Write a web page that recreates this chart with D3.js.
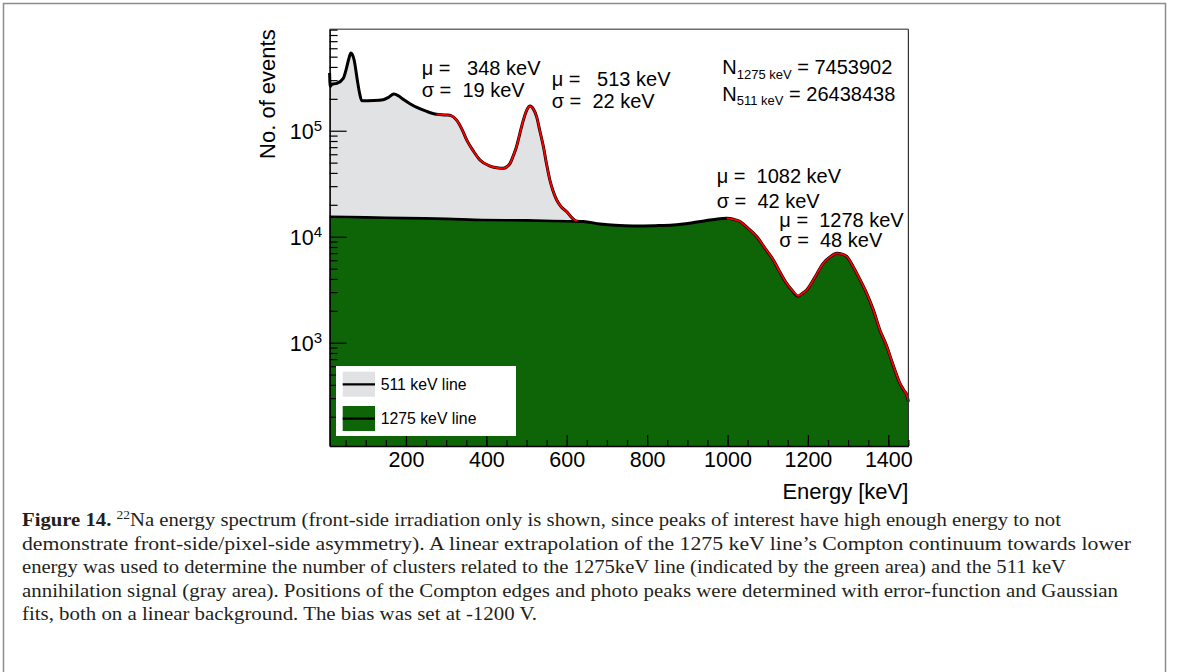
<!DOCTYPE html>
<html>
<head>
<meta charset="utf-8">
<script src="https://cdn.jsdelivr.net/npm/d3@7"></script>
<style>
  html, body { margin: 0; padding: 0; background: #fff; }
  svg { display: block; }
  .sans { font-family: "Liberation Sans", Arial, Helvetica, sans-serif; }
  .serif { font-family: "Liberation Serif", "Times New Roman", serif; }
</style>
</head>
<body>
<svg id="fig" width="1179" height="672"></svg>
<script>
// 22Na energy spectrum, front-side irradiation
// Energy grid (keV) of the measured spectrum
const energy = [10, 11.5, 16, 28, 44, 52, 57, 63, 71, 79, 84, 90, 120, 143, 155, 170, 181, 193,
  210, 227, 250, 276, 300, 312, 326, 340, 351, 368, 384, 409, 430, 442, 452, 459, 467, 475, 483,
  492, 500, 509, 517, 525, 533, 542, 550, 558, 566, 575, 587, 600, 612, 625, 641, 683, 720, 766,
  820, 865, 910, 948, 975, 998, 1015, 1031, 1050, 1073, 1093, 1114, 1130, 1147, 1160, 1175, 1185,
  1197, 1215, 1238, 1255, 1272, 1285, 1297, 1313, 1330, 1346, 1363, 1379, 1395, 1412, 1429,
  1440, 1446, 1450];

// Total number of events per bin (gray area + green area)
const countsTotal = [350000, 262000, 275000, 280000, 312000, 390000, 465000, 540000, 465000,
  300000, 232000, 192000, 193000, 196000, 205000, 222000, 214000, 198000,
  180000, 166000, 153000, 143000, 141000, 139000, 126000, 102000, 82000, 64000, 53000, 46400,
  44500, 44200, 46000, 49200, 58000, 70600, 93000,
  126000, 155000, 171000, 160000, 136000, 100000, 70600, 48000, 34300, 27000, 22200, 19000,
  17200, 15200, 14000, 13900, 13200, 12800, 12600,
  12700, 12900, 13500, 14200, 14700, 14900, 14600, 13900, 12100, 10000, 7820, 6030, 4670, 3630,
  3140, 2750, 2900, 3140, 4000, 5610, 6430, 6970, 6850, 6480, 5180, 3910, 2940, 2030, 1320, 950,
  617, 414, 350, 321, 277];

// Events attributed to the 1275 keV line: linear extrapolation of its Compton
// continuum below ~640 keV, measured spectrum above
const energy1275 = [10, 100, 200, 300, 392, 500, 600, 641];
const counts1275Low = [15450, 15230, 14980, 14740, 14360, 14250, 14000, 13900];

// Fit ranges (keV): Compton edge / photo peak of the 511 keV and 1275 keV lines
const fitRanges = [[276, 442], [442, 625], [998, 1175], [1175, 1450]];

// Fit results (spaces kept as non-breaking so they are not collapsed)
const fitMu = ["\u03bc =\u00a0\u00a0\u00a0348 keV", "\u03bc =\u00a0\u00a0\u00a0513 keV",
  "\u03bc =\u00a0\u00a01082 keV", "\u03bc =\u00a0\u00a01278 keV"];
const fitSigma = ["\u03c3 =\u00a0\u00a019 keV", "\u03c3 =\u00a0\u00a022 keV",
  "\u03c3 =\u00a0\u00a042 keV", "\u03c3 =\u00a0\u00a048 keV"];
const nLabels = [["N", "1275 keV", " = 7453902"], ["N", "511 keV", " = 26438438"]];

// Axis ticks
const xMajor = [200, 400, 600, 800, 1000, 1200, 1400];
const xMinor = d3.range(50, 1451, 50);
const yDecades = [3, 4, 5];
const legendItems = [["511 keV line", "#e1e2e4"], ["1275 keV line", "#0d6507"]];

const captionLines = [
  "Na energy spectrum (front-side irradiation only is shown, since peaks of interest have high enough energy to not",
  "demonstrate front-side/pixel-side asymmetry). A linear extrapolation of the 1275 keV line\u2019s Compton continuum towards lower",
  "energy was used to determine the number of clusters related to the 1275keV line (indicated by the green area) and the 511 keV",
  "annihilation signal (gray area). Positions of the Compton edges and photo peaks were determined with error-function and Gaussian",
  "fits, both on a linear background. The bias was set at -1200 V."
];

const svg = d3.select("#fig");

// Figure frame
svg.append("rect").attr("x", 3.5).attr("y", 3.5).attr("width", 1162).attr("height", 680)
  .attr("fill", "none").attr("stroke", "#8c8c8c").attr("stroke-width", 1.5);

const x = d3.scaleLinear().domain([10, 1450]).range([329.6, 908.4]);
const y = d3.scaleLog().domain([106, 9.06e5]).range([446, 29.3]);

const spectrum = energy.map((e, i) => ({ e, v: countsTotal[i] }));
const green = energy1275.map((e, i) => ({ e, v: counts1275Low[i] }))
  .concat(spectrum.filter(d => d.e > 641));

const area = d3.area().x(d => x(d.e)).y0(y.range()[0]).y1(d => y(d.v)).curve(d3.curveMonotoneX);
const line = d3.line().x(d => x(d.e)).y(d => y(d.v)).curve(d3.curveMonotoneX);

const plot = svg.append("g");
plot.append("path").datum(spectrum).attr("d", area).attr("fill", "#e1e2e4");
plot.append("path").datum(green).attr("d", area).attr("fill", "#0d6507");
plot.append("path").datum(spectrum).attr("d", line).attr("fill", "none")
  .attr("stroke", "#000").attr("stroke-width", 3).attr("stroke-linejoin", "round");
plot.append("path").datum(green.filter(d => d.e <= 641)).attr("d", line).attr("fill", "none")
  .attr("stroke", "#000").attr("stroke-width", 2.6);

// Fitted functions
fitRanges.forEach(([lo, hi]) => {
  plot.append("path").datum(spectrum.filter(d => d.e >= lo && d.e <= hi))
    .attr("d", line).attr("fill", "none").attr("stroke", "#ff0000").attr("stroke-width", 1.8);
});

// Frame of the pad (top and right)
svg.append("line").attr("x1", 329.6).attr("x2", 908.4).attr("y1", 29.3).attr("y2", 29.3)
  .attr("stroke", "#6d6d6d").attr("stroke-width", 1.5);
svg.append("line").attr("x1", 908.4).attr("x2", 908.4).attr("y1", 29.3).attr("y2", 446)
  .attr("stroke", "#333").attr("stroke-width", 1.2);

// X axis
const gx = svg.append("g").attr("transform", "translate(0,446)");
gx.call(d3.axisBottom(x).tickValues(xMinor).tickSize(-6).tickSizeOuter(0).tickFormat(""));
gx.call(g => g.select(".domain").remove());
const gxMaj = svg.append("g").attr("transform", "translate(0,446)");
gxMaj.call(d3.axisBottom(x).tickValues(xMajor).tickSize(-11).tickSizeOuter(0).tickPadding(6)
  .tickFormat(d3.format("d")));
[gx, gxMaj].forEach(g => {
  g.selectAll("line").attr("stroke", "#000").attr("stroke-width", 1.2);
  g.selectAll("text").attr("font-size", 21.5).attr("fill", "#000")
    .attr("font-family", "Liberation Sans, Arial, sans-serif");
});
gxMaj.select(".domain").attr("stroke", "#000").attr("stroke-width", 1.6);

// Y axis (log)
const yMinorVals = [];
[2, 3, 4, 5].forEach(p => d3.range(2, 10).forEach(m => {
  const v = m * Math.pow(10, p);
  if (v > 106 && v < 9.06e5) yMinorVals.push(v);
}));
const gyMin = svg.append("g").attr("transform", "translate(329.6,0)");
gyMin.call(d3.axisLeft(y).tickValues(yMinorVals).tickSize(-8).tickSizeOuter(0).tickFormat(""));
gyMin.select(".domain").remove();
const gyMaj = svg.append("g").attr("transform", "translate(329.6,0)");
gyMaj.call(d3.axisLeft(y).tickValues(yDecades.map(p => Math.pow(10, p))).tickSize(-17)
  .tickSizeOuter(0).tickFormat(""));
[gyMin, gyMaj].forEach(g => g.selectAll("line").attr("stroke", "#000").attr("stroke-width", 1.2));
gyMaj.select(".domain").attr("stroke", "#000").attr("stroke-width", 1.6);

const yLab = svg.append("g").attr("class", "sans");
yDecades.forEach(p => {
  const t = yLab.append("text").attr("x", 322).attr("y", y(Math.pow(10, p)) + 8.6)
    .attr("text-anchor", "end").attr("font-size", 21.5);
  t.append("tspan").text("10");
  t.append("tspan").attr("font-size", 15).attr("dy", -8.5).text(String(p));
});

// Axis titles
svg.append("text").attr("class", "sans").attr("font-size", 22)
  .attr("transform", "translate(275,29.3) rotate(-90)").attr("text-anchor", "end")
  .text("No. of events");
svg.append("text").attr("class", "sans").attr("font-size", 22)
  .attr("x", 908.4).attr("y", 499).attr("text-anchor", "end").text("Energy [keV]");

// Fit result labels
const fitPos = [[421.7, 75, 97], [551.7, 86, 108], [716.7, 183.3, 208.3], [779.3, 226.7, 246.7]];
const ann = svg.append("g").attr("class", "sans").attr("font-size", 20);
fitMu.forEach((s, i) => {
  ann.append("text").attr("x", fitPos[i][0]).attr("y", fitPos[i][1]).text(s);
  ann.append("text").attr("x", fitPos[i][0]).attr("y", fitPos[i][2]).text(fitSigma[i]);
});

// Event counts
nLabels.forEach((n, i) => {
  const t = ann.append("text").attr("x", 722.3).attr("y", 74 + i * 26.5);
  t.append("tspan").text(n[0]);
  t.append("tspan").attr("font-size", 13).attr("dy", 4.5).text(n[1]);
  t.append("tspan").attr("dy", -4.5).text(n[2]);
});

// Legend
const lg = svg.append("g").attr("class", "sans");
lg.append("rect").attr("x", 336).attr("y", 366).attr("width", 180).attr("height", 70).attr("fill", "#fff");
legendItems.forEach(([label, fill], i) => {
  const y0 = 371.7 + i * 34.3;
  lg.append("rect").attr("x", 342.7).attr("y", y0).attr("width", 32.3).attr("height", 25).attr("fill", fill);
  lg.append("line").attr("x1", 342.7).attr("x2", 375).attr("y1", y0 + 12.6).attr("y2", y0 + 12.6)
    .attr("stroke", "#000").attr("stroke-width", 2.2);
  lg.append("text").attr("x", 380.7).attr("y", y0 + 18).attr("font-size", 15.8).text(label);
});

// Caption
const capWidths = [1039, 1109, 1044, 1096, 515];
const cap = svg.append("g").attr("class", "serif").attr("fill", "#231f20").attr("font-size", 18.5);
captionLines.forEach((s, i) => {
  const t = cap.append("text").attr("x", 22).attr("y", 526 + i * 23.6)
    .attr("textLength", capWidths[i]).attr("lengthAdjust", "spacingAndGlyphs");
  if (i === 0) {
    t.append("tspan").attr("font-weight", "bold").text("Figure 14. ");
    t.append("tspan").attr("font-size", 12).attr("dy", -7).text("22");
    t.append("tspan").attr("dy", 7).text(s);
  } else {
    t.text(s);
  }
});
</script>
</body>
</html>
